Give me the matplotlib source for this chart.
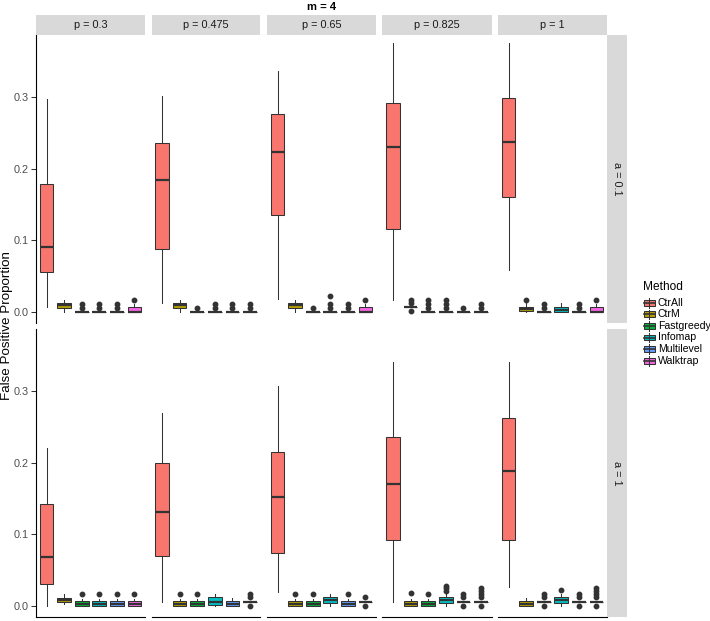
import matplotlib
matplotlib.use("Agg")
import matplotlib.pyplot as plt
from matplotlib.patches import Rectangle

plt.rcParams['font.family'] = ['Liberation Sans', 'DejaVu Sans']

methods = ["CtrAll", "CtrM", "Fastgreedy", "Infomap", "Multilevel", "Walktrap"]
colors = ["#F8766D", "#B79F00", "#00BA38", "#00BFC4", "#619CFF", "#F564E3"]
p_labels = ["p = 0.3", "p = 0.475", "p = 0.65", "p = 0.825", "p = 1"]
a_labels = ["a = 0.1", "a = 1"]

# box stats per panel: (whislo, q1, med, q3, whishi), one tuple for each p
stats_a01 = {
    "CtrAll": [(0.007, 0.056, 0.091, 0.179, 0.298), (0.012, 0.088, 0.185, 0.236, 0.302),
               (0.018, 0.136, 0.224, 0.276, 0.336), (0.017, 0.116, 0.231, 0.292, 0.376),
               (0.059, 0.160, 0.238, 0.299, 0.376)],
    "CtrM": [(0.0, 0.005, 0.009, 0.012, 0.017), (0.0, 0.005, 0.009, 0.012, 0.016),
             (0.0, 0.005, 0.009, 0.012, 0.016), (0.007, 0.007, 0.007, 0.007, 0.007),
             (0.0, 0.001, 0.004, 0.007, 0.012)],
    "Fastgreedy": [(0, 0, 0, 0, 0)] * 5,
    "Infomap": [(0, 0, 0, 0, 0), (0, 0, 0, 0, 0), (0, 0, 0, 0, 0), (0, 0, 0, 0, 0),
                (0.0, 0.0, 0.003, 0.007, 0.012)],
    "Multilevel": [(0, 0, 0, 0, 0)] * 5,
    "Walktrap": [(0.0, 0.0, 0.0, 0.007, 0.011), (0, 0, 0, 0, 0), (0.0, 0.0, 0.0, 0.007, 0.011),
                 (0, 0, 0, 0, 0), (0.0, 0.0, 0.0, 0.007, 0.011)],
}
fliers_a01 = {
    "CtrAll": [[], [], [], [], []],
    "CtrM": [[], [], [], [0.001, 0.012, 0.017], [0.017]],
    "Fastgreedy": [[0.006, 0.011], [0.006], [0.006], [0.006, 0.011, 0.016], [0.006, 0.011]],
    "Infomap": [[0.006, 0.011], [0.006, 0.011], [0.006, 0.011, 0.022], [0.006, 0.011, 0.016], []],
    "Multilevel": [[0.006, 0.011], [0.006, 0.011], [0.006, 0.011], [0.006], [0.006, 0.011]],
    "Walktrap": [[0.017], [0.006, 0.011], [0.017], [0.006, 0.011], [0.017]],
}

stats_a1 = {
    "CtrAll": [(0.0, 0.031, 0.068, 0.143, 0.221), (0.005, 0.070, 0.131, 0.200, 0.269),
               (0.020, 0.074, 0.152, 0.215, 0.308), (0.005, 0.092, 0.171, 0.236, 0.341),
               (0.027, 0.092, 0.189, 0.263, 0.341)],
    "CtrM": [(0.002, 0.005, 0.008, 0.011, 0.017), (0.0, 0.0, 0.002, 0.007, 0.010),
             (0.0, 0.0, 0.002, 0.007, 0.010), (0.0, 0.0, 0.002, 0.007, 0.010),
             (0.0, 0.0, 0.002, 0.007, 0.011)],
    "Fastgreedy": [(0.0, 0.0, 0.002, 0.007, 0.010), (0.0, 0.0, 0.002, 0.007, 0.010),
                   (0.0, 0.0, 0.002, 0.007, 0.010), (0.0, 0.0, 0.002, 0.007, 0.010),
                   (0.006, 0.006, 0.006, 0.006, 0.006)],
    "Infomap": [(0.0, 0.0, 0.002, 0.007, 0.010), (0.0, 0.001, 0.006, 0.012, 0.016),
                (0.0, 0.004, 0.008, 0.012, 0.016), (0.0, 0.004, 0.008, 0.012, 0.017),
                (0.0, 0.004, 0.008, 0.012, 0.016)],
    "Multilevel": [(0.0, 0.0, 0.002, 0.007, 0.010), (0.0, 0.0, 0.002, 0.007, 0.011),
                   (0.0, 0.0, 0.002, 0.007, 0.010), (0.006, 0.006, 0.006, 0.006, 0.006),
                   (0.006, 0.006, 0.006, 0.006, 0.006)],
    "Walktrap": [(0.0, 0.0, 0.002, 0.007, 0.010), (0.006, 0.006, 0.006, 0.006, 0.006),
                 (0.006, 0.006, 0.006, 0.006, 0.006), (0.006, 0.006, 0.006, 0.006, 0.006),
                 (0.006, 0.006, 0.006, 0.006, 0.006)],
}
fliers_a1 = {
    "CtrAll": [[], [], [], [], []],
    "CtrM": [[], [0.017], [0.017], [0.018], []],
    "Fastgreedy": [[0.017], [0.017], [0.017], [0.017], [0.0, 0.012, 0.016]],
    "Infomap": [[0.017], [], [], [0.021, 0.025, 0.028], [0.022]],
    "Multilevel": [[0.017], [], [0.017], [0.0, 0.012, 0.017], [0.0, 0.012, 0.017]],
    "Walktrap": [[0.017], [0.0, 0.012, 0.016], [0.0, 0.012],
                 [0.0, 0.012, 0.016, 0.021, 0.025], [0.0, 0.012, 0.016, 0.021, 0.025]],
}

W, H = 710, 621
EDGE = "#333333"
STRIP = "#D9D9D9"

fig = plt.figure(figsize=(W / 100, H / 100), dpi=100)


def px_axes(x, y, w, h):
    return fig.add_axes([x / W, 1 - (y + h) / H, w / W, h / H])


col_left = [36 + i * 115.5 for i in range(5)]
col_w = 109
row_top = [35, 329]
row_h = 288

for r, (stats, fliers) in enumerate([(stats_a01, fliers_a01), (stats_a1, fliers_a1)]):
    for c in range(5):
        ax = px_axes(col_left[c], row_top[r], col_w, row_h)
        for j, m in enumerate(methods):
            lo, q1, med, q3, hi = stats[m][c]
            ax.bxp([dict(med=med, q1=q1, q3=q3, whislo=lo, whishi=hi, fliers=fliers[m][c])],
                   positions=[j + 1], widths=0.78, patch_artist=True, showcaps=False,
                   manage_ticks=False,
                   boxprops=dict(facecolor=colors[j], edgecolor=EDGE, linewidth=0.75),
                   medianprops=dict(color=EDGE, linewidth=1.6),
                   whiskerprops=dict(color=EDGE, linewidth=0.75),
                   flierprops=dict(marker='o', markerfacecolor=EDGE, markeredgecolor=EDGE,
                                   markersize=3.2, linestyle='none'))
        ax.set_xlim(0.4, 6.6)
        ax.set_ylim(-0.0155, 0.387)
        for s in ax.spines.values():
            s.set_visible(False)
        ax.set_xticks([])
        if c == 0:
            ax.spines['left'].set_visible(True)
            ax.spines['left'].set_linewidth(0.8)
            ax.set_yticks([0, 0.1, 0.2, 0.3])
            ax.set_yticklabels(["0.0", "0.1", "0.2", "0.3"])
            ax.tick_params(axis='y', length=3.5, width=0.75, color=EDGE,
                           labelcolor="#4D4D4D", labelsize=7.8, pad=2)
        else:
            ax.set_yticks([])
        if r == 1:
            ax.spines['bottom'].set_visible(True)
            ax.spines['bottom'].set_linewidth(0.8)

# top strips
for c in range(5):
    sax = px_axes(col_left[c], 15, col_w, 20)
    sax.set_facecolor(STRIP)
    sax.set_xticks([])
    sax.set_yticks([])
    for s in sax.spines.values():
        s.set_visible(False)
    sax.text(0.5, 0.5, p_labels[c], ha='center', va='center', fontsize=7.8,
             color="#1A1A1A", transform=sax.transAxes)

# right strips
for r in range(2):
    sax = px_axes(607, row_top[r], 20, row_h)
    sax.set_facecolor(STRIP)
    sax.set_xticks([])
    sax.set_yticks([])
    for s in sax.spines.values():
        s.set_visible(False)
    sax.text(0.5, 0.5, a_labels[r], ha='center', va='center', fontsize=7.8,
             color="#1A1A1A", rotation=-90, transform=sax.transAxes)

fig.text(321.5 / W, 1 - 7 / H, "m = 4", ha='center', va='center', fontsize=8,
         fontweight='bold')
fig.text(7 / W, 1 - 326 / H, "False Positive Proportion", ha='center', va='center',
         rotation=90, fontsize=9.6)

# legend drawn in pixel coordinates
lax = px_axes(636, 275, 74, 100)
lax.set_xlim(636, 710)
lax.set_ylim(375, 275)
lax.axis('off')
lax.text(643, 287, "Method", ha='left', va='center', fontsize=8.6)
for k, m in enumerate(methods):
    yc = 302.7 + k * 11.6
    lax.plot([649, 649], [yc - 4.8, yc + 4.8], color=EDGE, lw=0.75)
    lax.add_patch(Rectangle((643.5, yc - 2.9), 11, 5.8, facecolor=colors[k],
                            edgecolor=EDGE, lw=0.75))
    lax.plot([643.5, 654.5], [yc, yc], color=EDGE, lw=1.2)
    lax.text(658, yc, m, ha='left', va='center', fontsize=7.6)

fig.savefig("out.png", dpi=100)
